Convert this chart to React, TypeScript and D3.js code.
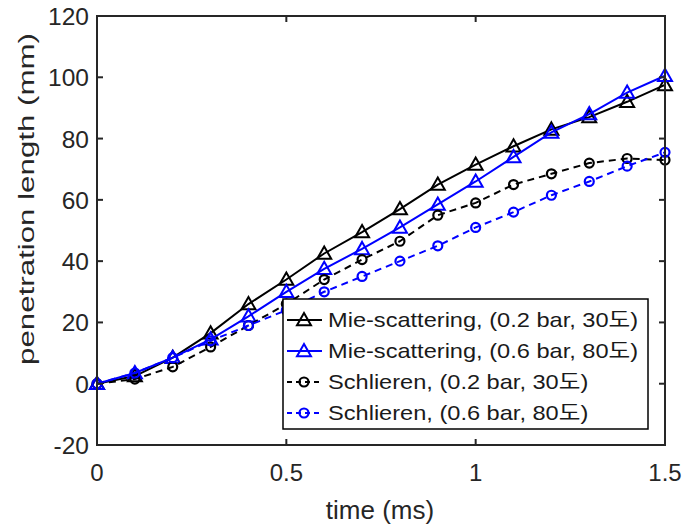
import React from "react";
import * as d3 from "d3";

const times = [0, 0.1, 0.2, 0.3, 0.4, 0.5, 0.6, 0.7, 0.8, 0.9, 1.0, 1.1, 1.2, 1.3, 1.4, 1.5];
const mie02 = [0, 2.5, 8.5, 16.5, 26, 34, 42.5, 49.5, 57, 65, 71.5, 77.5, 83, 87, 92, 97.5];
const mie06 = [0, 3.5, 8.5, 14.5, 22, 30, 37.5, 44, 51, 58.5, 66, 74, 82, 88, 95, 100.5];
const sch02 = [0, 1.5, 5.5, 12, 19, 26, 34, 40.5, 46.5, 55, 59, 65, 68.5, 72, 73.5, 73];
const sch06 = [0, 3.5, 8.5, 14, 19, 24, 30, 35, 40, 45, 51, 56, 61.5, 66, 71, 75.5];

const xTicks = [0, 0.5, 1, 1.5];
const yTicks = [-20, 0, 20, 40, 60, 80, 100, 120];

const seriesNames = [
  "Mie-scattering, (0.2 bar, 30\uB3C4)",
  "Mie-scattering, (0.6 bar, 80\uB3C4)",
  "Schlieren, (0.2 bar, 30\uB3C4)",
  "Schlieren, (0.6 bar, 80\uB3C4)",
];

const W = 686;
const H = 530;
const M = { left: 97, right: 665, top: 16, bottom: 445 };
const FONT = "'Liberation Sans', Arial, 'Noto Sans CJK KR', sans-serif";
const AXIS = "#262626";

type S = { name: string; values: number[]; color: string; marker: "tri" | "circle"; dash?: string };

const series: S[] = [
  { name: seriesNames[0], values: mie02, color: "#000000", marker: "tri" },
  { name: seriesNames[1], values: mie06, color: "#0000ff", marker: "tri" },
  { name: seriesNames[2], values: sch02, color: "#000000", marker: "circle", dash: "7,5" },
  { name: seriesNames[3], values: sch06, color: "#0000ff", marker: "circle", dash: "7,5" },
];

function Marker({ x, y, kind, color }: { x: number; y: number; kind: string; color: string }) {
  if (kind === "tri") {
    const s = 7;
    const p = `M${x},${y - s} L${x + s},${y + s * 0.75} L${x - s},${y + s * 0.75} Z`;
    return <path d={p} fill="none" stroke={color} strokeWidth={2} strokeLinejoin="miter" />;
  }
  return <circle cx={x} cy={y} r={4.5} fill="none" stroke={color} strokeWidth={2.2} />;
}

export default function App() {
  const x = d3.scaleLinear().domain([0, 1.5]).range([M.left, M.right]);
  const y = d3.scaleLinear().domain([-20, 120]).range([M.bottom, M.top]);
  const line = d3
    .line<number>()
    .x((_, i) => x(times[i]))
    .y((d) => y(d));

  const legend = { x: 283, y: 299, w: 365, h: 130 };
  const rowY = [320, 351, 382, 413];
  const legendScale = 1.18;

  return (
    <svg width={W} height={H} style={{ position: "absolute", left: 0, top: 0, background: "#fff" }}>
      <rect x={0} y={0} width={W} height={H} fill="#fff" />
      {series.map((s, si) => (
        <g key={si}>
          <path d={line(s.values) || ""} fill="none" stroke={s.color} strokeWidth={2} strokeDasharray={s.dash} />
          {s.values.map((v, i) => (
            <Marker key={i} x={x(times[i])} y={y(v)} kind={s.marker} color={s.color} />
          ))}
        </g>
      ))}
      {/* axes box */}
      <rect x={M.left} y={M.top} width={M.right - M.left} height={M.bottom - M.top} fill="none" stroke={AXIS} strokeWidth={2} />
      {xTicks.map((t, i) => (
        <g key={"xt" + i}>
          <line x1={x(t)} x2={x(t)} y1={M.bottom} y2={M.bottom - 6} stroke={AXIS} strokeWidth={2} />
          <line x1={x(t)} x2={x(t)} y1={M.top} y2={M.top + 6} stroke={AXIS} strokeWidth={2} />
          <text x={x(t)} y={481} textAnchor="middle" fontFamily={FONT} fontSize={24} fill="#262626">
            {String(t)}
          </text>
        </g>
      ))}
      {yTicks.map((t, i) => (
        <g key={"yt" + i}>
          <line x1={M.left} x2={M.left + 6} y1={y(t)} y2={y(t)} stroke={AXIS} strokeWidth={2} />
          <line x1={M.right} x2={M.right - 6} y1={y(t)} y2={y(t)} stroke={AXIS} strokeWidth={2} />
          <text x={89} y={y(t) + 9} textAnchor="end" fontFamily={FONT} fontSize={24.5} fill="#262626">
            {String(t)}
          </text>
        </g>
      ))}
      <text x={380} y={519} textAnchor="middle" fontFamily={FONT} fontSize={26} fill="#262626">
        time (ms)
      </text>
      <text
        transform={`translate(34,199) rotate(-90)`}
        textAnchor="middle"
        fontFamily={FONT}
        fontSize={22}
        fill="#262626"
        textLength={332}
        lengthAdjust="spacingAndGlyphs"
      >
        penetration length (mm)
      </text>
      {/* legend */}
      <rect x={legend.x} y={legend.y} width={legend.w} height={legend.h} fill="#fff" stroke="#000" strokeWidth={1.5} />
      {series.map((s, i) => (
        <g key={"lg" + i}>
          <line x1={287} x2={322} y1={rowY[i]} y2={rowY[i]} stroke={s.color} strokeWidth={2} strokeDasharray={s.dash ? "5,4" : undefined} />
          <Marker x={304} y={rowY[i]} kind={s.marker} color={s.color} />
          <text
            transform={`translate(328,${rowY[i] + 7}) scale(${legendScale},1)`}
            fontFamily={FONT}
            fontSize={20}
            fill="#1a1a1a"
          >
            {s.name}
          </text>
        </g>
      ))}
    </svg>
  );
}
